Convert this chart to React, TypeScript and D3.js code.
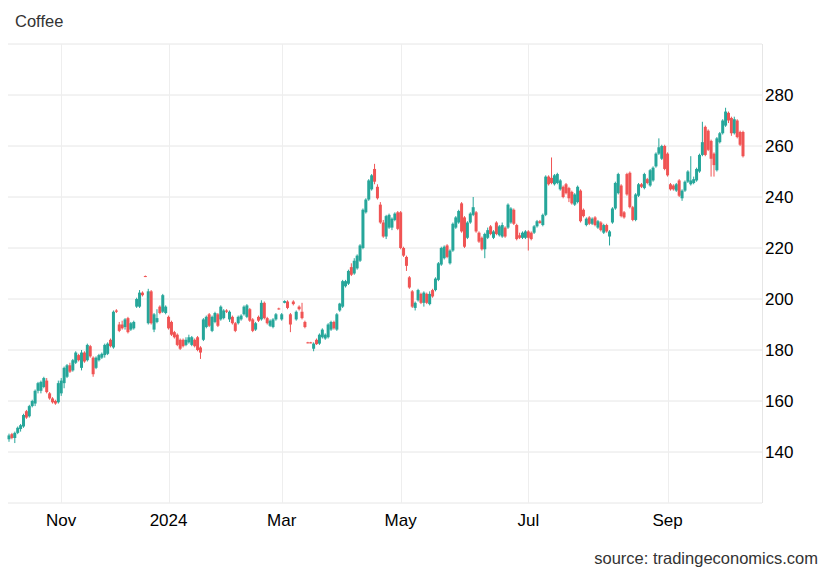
import React from "react";
import * as d3 from "d3";

// [open, high, low, close]
const candles: [number, number, number, number][] = [
  [145,147.2,144,146.5],[147,147.5,145,145.5],[145.5,148,143.5,147.5],[147.5,150,147,149.5],[149,151,148,150.5],
  [150,155,149.5,154.5],[156,156.5,153,153.5],[154,158.5,153.5,158],[158,160.5,157.5,160],[159,164.5,158,164],
  [164,167.5,163,167],[164,168,163,167.5],[165.5,169.5,165,169],[168,169,163,163.5],[163,163.5,160.5,161],
  [161,161.5,159,159.5],[160,160.5,158.5,159],[159.5,168,159,167],[163,169,162,168],[167,173.5,165,173],
  [169.5,174.5,169,174],[174,175,171,171.5],[172,176.5,171.5,176],[175,179.5,174.5,179],[178,178.5,175.5,176],
  [173,180,172,179],[179,179.5,175,175.5],[176,182.5,175.5,182],[181.5,182,177,177.5],[177,177.5,169.5,170.5],
  [173,177.5,172.5,177],[176,178.5,175.5,178],[177,179,176.5,178.5],[178,182.5,177,182],[178.5,183,178,182.5],
  [184,184.5,181,181.5],[181,195.5,180.5,195],[195.5,196,194.5,195],[190,191,187,187.5],[190,191.5,188,188.5],
  [189,192.5,188,192],[192.5,193,186.5,187],[188,191,187.5,190.5],[188.5,191.5,188,191],[197,200.5,196.5,200],
  [197,203.5,196.5,202.5],[202.5,203,201,201.5],[209,209.2,208.6,208.8],[190.5,204,190,203],[203,203.5,190,190.5],
  [188,194.5,187,194],[191,196,190.5,192.5],[197,197.5,194,194.5],[195,202,194.5,201.5],[194.5,197.5,194,197],
  [193,193.5,188,188.5],[191,191.5,185.5,186],[187,187.5,184.5,185],[186,186.5,181.5,182],[184,184.5,180,180.5],
  [184,184.5,181,181.5],[182,185,181.5,184],[183,186,182.5,185],[182,185.5,181.5,185],[184,184.5,181,181.5],
  [185,185.5,179.5,180],[181,181.5,176.5,179],[184,192.5,183.5,192],[189,193.5,188.5,193],[194,194.5,189,189.5],
  [187.5,193.5,187,193],[191,195,190.5,194.5],[194,194.5,189,189.5],[192,197.5,191.5,197],[192.5,196,192,195.5],
  [195.5,196,194.5,195],[192,195.5,191,195],[193,193.5,190,190.5],[190.5,191,187,187.5],[190.5,193.5,190,193],
  [192,194,191.5,193.5],[194,197.5,193.5,197],[193,198,192.5,197.5],[196,196.5,191,191.5],[192,192.5,187,187.5],
  [188,191,187.5,190.5],[193,193.5,191,191.5],[192,199.5,191.5,198.5],[198.5,199,192,192.5],[192.5,193,190,190.5],
  [189.5,192,189,191.5],[189,192.5,188.5,192],[192,194.5,191.5,194],[196.3,196.6,195.8,196],[192,194.5,191.5,194],
  [198.5,199.5,198.3,199.2],[199,199.5,196,196.5],[194,194.5,187,190],[199,199.5,197.5,198],[192,195.5,191.5,195],
  [197,197.5,195.5,196],[195,198.5,192,192.5],[191,191.5,188.5,189],[183,183.2,182.6,182.8],[183,183.2,182.6,182.8],
  [180.5,183,179.5,182.5],[184,184.5,182,182.3],[182.5,186.5,182,186],[185,188.5,184.5,188],[184.5,186.5,184,186],
  [185,190.5,184.5,190],[188,191.5,187.5,191],[191,191.5,188,188.5],[188,194.5,187.5,194],[195.5,198.5,195,198.2],
  [197,207.5,196.5,207],[205,207.5,204.5,207],[206,211.5,205.5,211],[212.5,214,209,209.5],[210,216,209.5,215],
  [212,217.5,211.5,217],[215,221.5,214.5,221],[220,235.5,219.5,235],[234,239.5,233.5,239],[239,247,238.5,246.5],
  [243,249,242.5,248.5],[251,253,245,246],[244,245,239,239.5],[237,238,229.5,230],[230,231,224,224.5],
  [224.5,233,223.5,232.5],[228,233.5,227.5,233],[228,232,227,231.5],[231,234,230.5,233.5],[234,234.5,227,227.5],
  [234,234.5,219.5,220],[220,220.5,216.5,217],[216.5,217,211,213],[208.5,209,204,204.5],[203,203.5,196.5,197],
  [196.5,199,195.5,198.5],[199.5,204,199,203.5],[202,202.5,198,198.5],[198.5,203,197,202.5],[202,202.5,198,198.5],
  [198,203,197.5,202],[203.5,204,200.5,201],[203.5,208.5,203,208],[207.5,214.5,207,214],[213.5,220.5,213,220],
  [216,221,215.5,220.5],[221,221.5,216,216.5],[214,219.5,213.5,219],[219,230,218.5,229.5],[228,232.5,227.5,232],
  [230,235,229.5,234.5],[237.5,238,226,226.5],[232,232.5,220,220.5],[224,230.5,223.5,230],[230,234,229.5,233.5],
  [233,240,232.5,236],[234,234.5,226,226.5],[226,226.5,222,222.5],[224,224.5,219,219.5],[219.5,226,216,225.5],
  [224,228,223.5,227],[228.5,229,225,225.5],[224,227,223.5,226.5],[230,230.5,225,225.5],[225,229,224.5,228.5],
  [224.5,230,224,229],[228,228.5,224,224.5],[228,237.5,227.5,237],[230,236,229.5,235.5],[235,235.5,229,229.5],
  [229,229.5,223,223.5],[225,226,223.5,224],[224,226.5,223.5,226],[224,227,223.5,226.5],[226.5,227,219,224],
  [226,226.5,223,223.5],[226,229,225.5,228.5],[228.5,231,228,230.5],[230.5,231,229.5,229.8],[229,233.5,228.5,233],
  [233,248.5,232.5,248],[248,248.5,244.5,245],[247.5,255.5,245,245.5],[245,249,244.5,248.5],[245.5,249.5,245,249],
  [243,247,242.5,246.5],[244,244.5,239.5,240],[245,245.5,241,241.5],[243.5,244,238,239.5],[242,242.5,237,237.5],
  [237,241.5,236.5,241],[238,244.5,237.5,244],[242.5,243,230,230.5],[235,235.5,232,232.5],[229,232,228.5,231.5],
  [232,232.5,229,229.5],[229.5,232,229,231.5],[232,232.5,228.5,229],[228,231,227.5,230.5],[230,230.5,226.5,227],
  [226,229.5,225.5,229],[229,229.5,226,226.5],[224.5,227,221,226.5],[230,236,229.5,235.5],[235.5,246,235,245.5],
  [241.5,249.5,241,249],[244.5,245,232,232.5],[234,234.5,231.5,232],[249,249.5,240.5,241],[249.5,250,235.5,236],
  [236,236.5,230.5,231],[231,241.5,230.5,241],[240.5,245.5,240,245],[245,245.5,243.5,244],[243.5,249.5,243,249],
  [247,247.5,245,245.5],[244.5,251,244,250.5],[246.5,252,246,251.5],[252,257.5,251.5,257],[257,263,256.5,259.5],
  [255,260.5,254.5,260],[260,260.5,250.5,251],[257,257.5,248,248.5],[245,245.5,242.5,243],[244.5,245,242.5,243],
  [242.5,245.5,242,245],[246.5,247,240,240.5],[239.5,243,238.5,242.5],[242.5,246.5,242,246],[246,250.5,245.5,250],
  [245,256,244.5,246.5],[245.5,248,245,247],[246.5,251.5,246,251],[250,257,249.5,256.5],[256.5,269.5,256,261.5],
  [267.5,268,256,256.5],[266,266.5,258,258.5],[262,262.5,248,255],[257,257.5,248,252.5],[250.5,263.5,250,263],
  [261.5,265.5,261,265],[265,270.5,264.5,270],[268,275,267.5,273.5],[273,273.5,269,270],[271,271.5,264,265],
  [265,271.5,264.5,270.5],[270,270.5,263,263.5],[265.5,266,260,260.5],[265.5,266,255.5,256],
];

const yTicks = [140, 160, 180, 200, 220, 240, 260, 280];
const yGrid = [120, 140, 160, 180, 200, 220, 240, 260, 280, 300];
const xTickLabels = ["Nov", "2024", "Mar", "May", "Jul", "Sep"];
const xTickIndex = [18, 55, 94, 135, 179, 227];

const UP = "#26a69a";
const DOWN = "#f05454";

export default function App() {
  const W = 830, H = 575;
  const left = 8, right = 762, top = 44, bottom = 503;
  const x = d3.scaleLinear().domain([0, candles.length - 1]).range([9, 743]);
  const y = d3.scaleLinear().domain([120, 300]).range([bottom, top]);
  const bw = 2;
  const font = "Arial, 'Liberation Sans', sans-serif";
  return (
    <svg width={W} height={H} style={{ position: "absolute", left: 0, top: 0, background: "#fff" }} fontFamily={font}>
      {yGrid.map((v) => (
        <line key={"g" + v} x1={left} x2={right} y1={y(v)} y2={y(v)} stroke="#e6e6e6" strokeWidth={1} />
      ))}
      {xTickIndex.map((i, k) => (
        <line key={"v" + k} x1={Math.round(x(i)) + 0.5} x2={Math.round(x(i)) + 0.5} y1={top} y2={bottom} stroke="#eeeeee" strokeWidth={1} />
      ))}
      <line x1={right + 0.5} x2={right + 0.5} y1={top} y2={bottom} stroke="#e6e6e6" />
      {candles.map(([o, h, l, c], i) => {
        const up = c >= o;
        const col = up ? UP : DOWN;
        const cx = x(i);
        const yt = y(Math.max(o, c));
        const yb = y(Math.min(o, c));
        return (
          <g key={i}>
            <line x1={cx} x2={cx} y1={y(h)} y2={y(l)} stroke={col} strokeWidth={1} />
            <rect x={cx - bw / 2 - 0.5} y={yt} width={bw + 1} height={Math.max(1, yb - yt)} fill={col} />
          </g>
        );
      })}
      {yTicks.map((v) => (
        <text key={"t" + v} x={765} y={y(v) + 6} fontSize={17} fill="#000">{v}</text>
      ))}
      {xTickLabels.map((lab, k) => (
        <text key={"x" + k} x={x(xTickIndex[k])} y={526} fontSize={17} fill="#000" textAnchor="middle">{lab}</text>
      ))}
      <text x={15} y={27} fontSize={16.5} fill="#333">Coffee</text>
      <text x={818} y={564} fontSize={16.5} fill="#333" textAnchor="end">source: tradingeconomics.com</text>
    </svg>
  );
}
